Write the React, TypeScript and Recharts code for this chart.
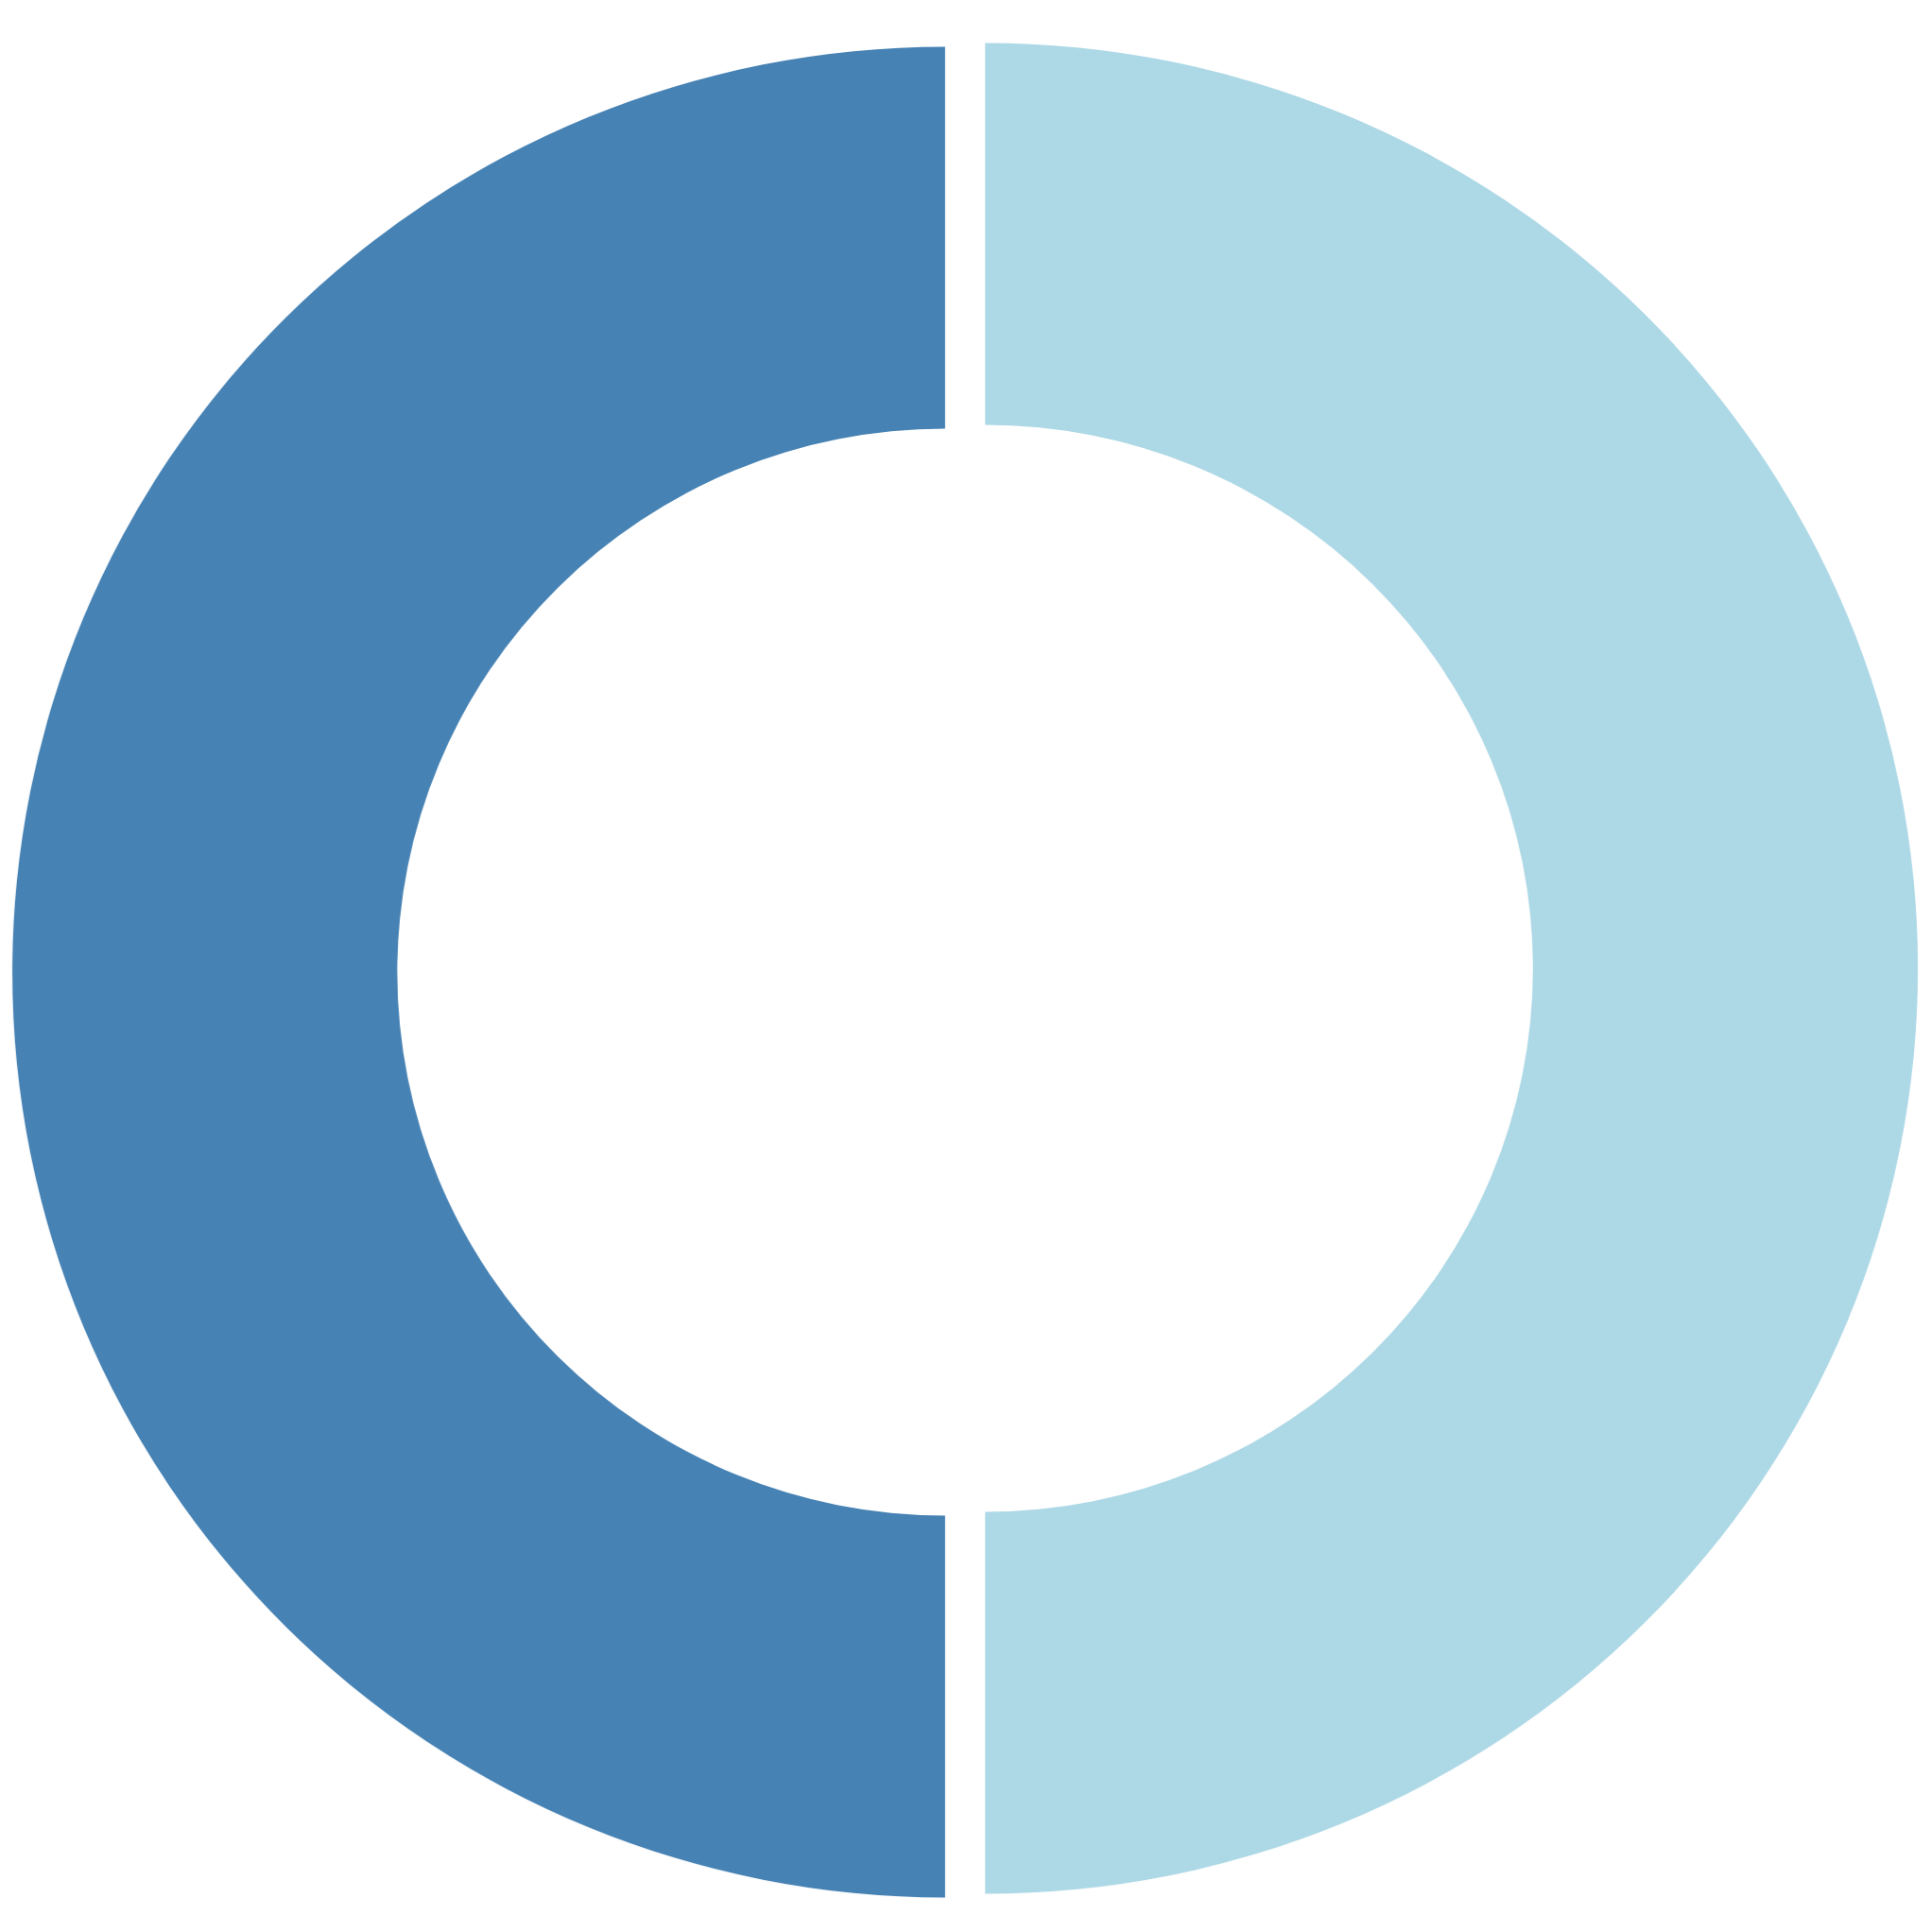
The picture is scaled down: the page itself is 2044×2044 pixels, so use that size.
import { PieChart, Pie, Cell, Sector } from 'recharts';

const categories = ['A', 'B'];
const values = [50, 50];

const COLORS = ['#add8e6', '#4682b4'];
// per-slice explode offsets [dx, dy]
const OFFSETS = [
  [21, -2],
  [-21, 2],
];

const data = categories.map((name, i) => ({ name, value: values[i] }));

function ExplodedSector(props: any) {
  const i = props.index ?? 0;
  const [dx, dy] = OFFSETS[i % OFFSETS.length];
  return <Sector {...props} cx={props.cx + dx} cy={props.cy + dy} stroke="none" />;
}

export default function App() {
  return (
    <div
      style={{
        position: 'fixed',
        left: 0,
        top: 0,
        width: 2044,
        height: 2044,
        background: '#fff',
        transform: 'scaleX(1.008)',
        transformOrigin: '1021px 1026px',
      }}
    >
      <PieChart width={2044} height={2044} margin={{ top: 0, right: 0, bottom: 0, left: 0 }}>
        <Pie
          data={data}
          dataKey="value"
          nameKey="name"
          cx={1021}
          cy={1026.5}
          innerRadius={575}
          outerRadius={979}
          startAngle={90}
          endAngle={-270}
          paddingAngle={0}
          stroke="none"
          isAnimationActive={false}
          shape={(p: any, index: number) => <ExplodedSector {...p} index={index} />}
        >
          {data.map((_, index) => (
            <Cell key={index} fill={COLORS[index % COLORS.length]} />
          ))}
        </Pie>
      </PieChart>
    </div>
  );
}
